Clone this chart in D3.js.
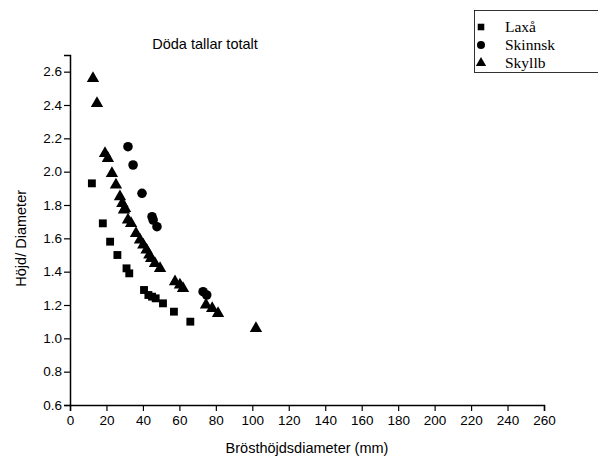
<!DOCTYPE html>
<html>
<head>
<meta charset="utf-8">
<script src="https://cdn.jsdelivr.net/npm/d3@7"></script>
<style>
  body { margin: 0; background: #fff; }
  text { font-family: "Liberation Sans", Arial, sans-serif; fill: #000; }
  .legend text { font-family: "Liberation Serif", "Times New Roman", serif; }
</style>
</head>
<body>
<div id="chart"></div>
<script>
// Laxå (squares)
const laxaX = [12, 18, 22, 26, 31, 32.5, 40.6, 43, 45, 47, 51, 57, 66];
const laxaY = [1.93, 1.69, 1.58, 1.50, 1.42, 1.39, 1.29, 1.26, 1.25, 1.24, 1.21, 1.16, 1.10];
// Skinnsk (circles)
const skinX = [31.8, 34.6, 39.5, 45, 45.6, 47.7, 73, 75];
const skinY = [2.15, 2.04, 1.87, 1.73, 1.71, 1.67, 1.28, 1.26];
// Skyllb (triangles)
const skyX = [12.6, 14.8, 19.2, 20.8, 23, 25.2, 27.4, 28.7, 29.6, 30.2, 31.8, 33.5, 36.2, 38.4, 40.2, 42, 43.5, 44.5, 46.6, 49.4, 57.6, 60.3, 62, 74.6, 78, 81.2, 102];
const skyY = [2.56, 2.41, 2.11, 2.08, 1.99, 1.92, 1.85, 1.81, 1.77, 1.78, 1.71, 1.69, 1.63, 1.59, 1.56, 1.53, 1.50, 1.48, 1.45, 1.42, 1.34, 1.32, 1.30, 1.20, 1.18, 1.15, 1.06];

const xTicks = d3.range(0, 261, 20);
const yTicks = [0.6, 0.8, 1.0, 1.2, 1.4, 1.6, 1.8, 2.0, 2.2, 2.4, 2.6];
const seriesNames = ['Laxå', 'Skinnsk', 'Skyllb'];

const width = 598, height = 459;
const margin = { t: 55, r: 54, b: 54, l: 70 };

const svg = d3.select('#chart').append('svg')
  .attr('width', width).attr('height', height);

const x = d3.scaleLinear().domain([0, 260]).range([margin.l, width - margin.r]);
const y = d3.scaleLinear().domain([0.6, 2.7]).range([height - margin.b, margin.t]);

// axes
const xAxis = svg.append('g')
  .attr('transform', `translate(0,${height - margin.b})`)
  .call(d3.axisBottom(x).tickValues(xTicks).tickSize(6).tickPadding(4).tickFormat(d3.format('d')));
const yAxis = svg.append('g')
  .attr('transform', `translate(${margin.l},0)`)
  .call(d3.axisLeft(y).tickValues(yTicks).tickSize(6).tickPadding(2).tickFormat(d3.format('.1f')));
[xAxis, yAxis].forEach(a => {
  a.selectAll('text').style('font-size', '13.5px').style('font-family', '"Liberation Sans", Arial, sans-serif');
  a.select('.domain').attr('stroke', '#000').attr('stroke-width', 1.5);
  a.selectAll('.tick line').attr('stroke', '#000').attr('stroke-width', 1.2);
});

// markers
const shapes = [d3.symbolSquare, d3.symbolCircle, d3.symbolTriangle];
const sizes = [62, 72, 66];
const sets = [[laxaX, laxaY], [skinX, skinY], [skyX, skyY]];

sets.forEach(([xs, ys], i) => {
  const pts = xs.map((v, j) => ({ x: v, y: ys[j] }));
  svg.append('g').selectAll('path')
    .data(pts)
    .join('path')
      .attr('transform', d => `translate(${x(d.x)},${y(d.y)})`)
      .attr('d', d3.symbol().type(shapes[i]).size(sizes[i]))
      .attr('fill', '#000');
});

// titles
svg.append('text')
  .attr('x', 205).attr('y', 49)
  .attr('text-anchor', 'middle')
  .style('font-size', '14.5px')
  .text('Döda tallar totalt');

svg.append('text')
  .attr('x', x(130)).attr('y', 453)
  .attr('text-anchor', 'middle')
  .style('font-size', '14.5px')
  .text('Brösthöjdsdiameter (mm)');

svg.append('text')
  .attr('transform', `translate(26,${y(1.6)}) rotate(-90)`)
  .attr('text-anchor', 'middle')
  .style('font-size', '14.5px')
  .text('Höjd/ Diameter');

// legend
const legend = svg.append('g').attr('class', 'legend');
legend.append('rect')
  .attr('x', 474.5).attr('y', 10.5).attr('width', 130).attr('height', 62)
  .attr('fill', '#fff').attr('stroke', '#000').attr('stroke-width', 0.8);
seriesNames.forEach((name, i) => {
  const ly = 27 + i * 18;
  legend.append('path')
    .attr('transform', `translate(481,${ly})`)
    .attr('d', d3.symbol().type(shapes[i]).size(sizes[i] * 0.7))
    .attr('fill', '#000');
  legend.append('text')
    .attr('x', 505).attr('y', ly + 5)
    .style('font-size', '15.5px')
    .text(name);
});
</script>
</body>
</html>
